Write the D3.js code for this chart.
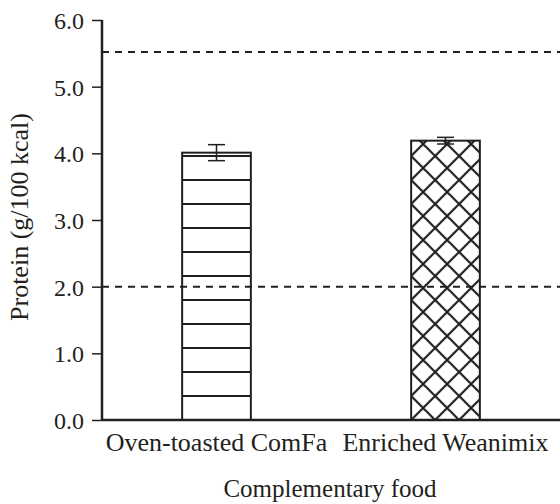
<!DOCTYPE html>
<html>
<head>
<meta charset="utf-8">
<script src="https://cdn.jsdelivr.net/npm/d3@7"></script>
<style>
  body { margin: 0; background: #fff; }
  text { font-family: "Liberation Serif", "Times New Roman", serif; fill: #231f20; }
</style>
</head>
<body>
<div id="graph1"></div>
<script>
var foods = ["Oven-toasted ComFa", "Enriched Weanimix"]
var protein = [4.01, 4.19]
var proteinErr = [0.12, 0.05]
var patterns = ["hlines", "cross"]
var yTicks = [0, 1, 2, 3, 4, 5, 6]
var refLines = [2.0, 5.52]

var ink = "#231f20"
var margin = {top: 20, right: 0, bottom: 84, left: 102},
    width = 560 - margin.left - margin.right,
    height = 504 - margin.top - margin.bottom;

var svg = d3.select("#graph1")
  .append("svg")
    .attr("width", 560)
    .attr("height", 504)

var defs = svg.append("defs")

var x = d3.scaleBand()
  .domain(foods)
  .range([0, width])
  .paddingInner(0.7)
  .paddingOuter(0.35)

var y = d3.scaleLinear()
  .domain([0, 6])
  .range([height, 0])

// horizontal stripes, every 24px counted up from the baseline
var hp = defs.append("pattern")
  .attr("id", "hlines")
  .attr("patternUnits", "userSpaceOnUse")
  .attr("width", 24).attr("height", 24)
  .attr("y", height + 12)
hp.append("line")
  .attr("x1", 0).attr("x2", 24).attr("y1", 12).attr("y2", 12)
  .attr("stroke", ink).attr("stroke-width", 2)

// diagonal cross hatch, anchored at the bar's bottom-left corner
var cp = defs.append("pattern")
  .attr("id", "cross")
  .attr("patternUnits", "userSpaceOnUse")
  .attr("width", 24).attr("height", 24)
  .attr("x", x(foods[1])).attr("y", height)
cp.append("path")
  .attr("d", "M0,0L24,24M24,0L0,24M-2,22L2,26M22,-2L26,2M22,26L26,22M-2,2L2,-2")
  .attr("stroke", ink).attr("stroke-width", 2.2).attr("fill", "none")

var g = svg.append("g")
  .attr("transform", "translate(" + margin.left + "," + margin.top + ")")

// reference lines
g.selectAll("refLine")
  .data(refLines).enter()
  .append("line")
    .attr("x1", 0).attr("x2", width)
    .attr("y1", function(d){ return y(d) })
    .attr("y2", function(d){ return y(d) })
    .attr("stroke", ink)
    .attr("stroke-width", 2)
    .attr("stroke-dasharray", "7,6")

// bars
g.selectAll("myBar")
  .data(foods).enter()
  .append("rect")
    .attr("x", function(d){ return x(d) })
    .attr("width", x.bandwidth())
    .attr("y", function(d, i){ return y(protein[i]) })
    .attr("height", function(d, i){ return height - y(protein[i]) })
    .attr("fill", function(d, i){ return "url(#" + patterns[i] + ")" })
    .attr("stroke", ink)
    .attr("stroke-width", 2)

// error bars
var eb = g.selectAll("myErr")
  .data(foods).enter()
  .append("g")
    .attr("transform", function(d){ return "translate(" + (x(d) + x.bandwidth() / 2) + ",0)" })
eb.append("line")
  .attr("y1", function(d, i){ return y(protein[i] + proteinErr[i]) })
  .attr("y2", function(d, i){ return y(protein[i] - proteinErr[i]) })
  .attr("stroke", ink).attr("stroke-width", 1.5)
eb.selectAll("cap")
  .data(function(d, i){ return [protein[i] + proteinErr[i], protein[i] - proteinErr[i]] })
  .enter().append("line")
    .attr("x1", -8.5).attr("x2", 8.5)
    .attr("y1", function(v){ return y(v) })
    .attr("y2", function(v){ return y(v) })
    .attr("stroke", ink).attr("stroke-width", 1.5)

// axes
var yAxis = g.append("g")
  .call(d3.axisLeft(y).tickValues(yTicks).tickFormat(d3.format(".1f")).tickSize(10).tickPadding(8))
yAxis.select(".domain").attr("stroke", ink).attr("stroke-width", 2.5).attr("d", "M0," + height + "V0")
yAxis.selectAll(".tick line").attr("stroke", ink).attr("stroke-width", 1.5)
yAxis.selectAll(".tick text").style("font-size", "24px").attr("dy", "0.35em")

var xAxis = g.append("g")
  .attr("transform", "translate(0," + height + ")")
  .call(d3.axisBottom(x).tickSize(0).tickPadding(13))
xAxis.select(".domain").attr("stroke", ink).attr("stroke-width", 2.5).attr("d", "M0,0H" + width)
xAxis.selectAll(".tick text").style("font-size", "26px")

// titles
svg.append("text")
  .attr("x", 330).attr("y", 497)
  .style("text-anchor", "middle")
  .style("font-size", "25px")
  .text("Complementary food")

svg.append("text")
  .attr("transform", "translate(28,217) rotate(-90)")
  .style("text-anchor", "middle")
  .style("font-size", "26px")
  .text("Protein (g/100 kcal)")
</script>
</body>
</html>
